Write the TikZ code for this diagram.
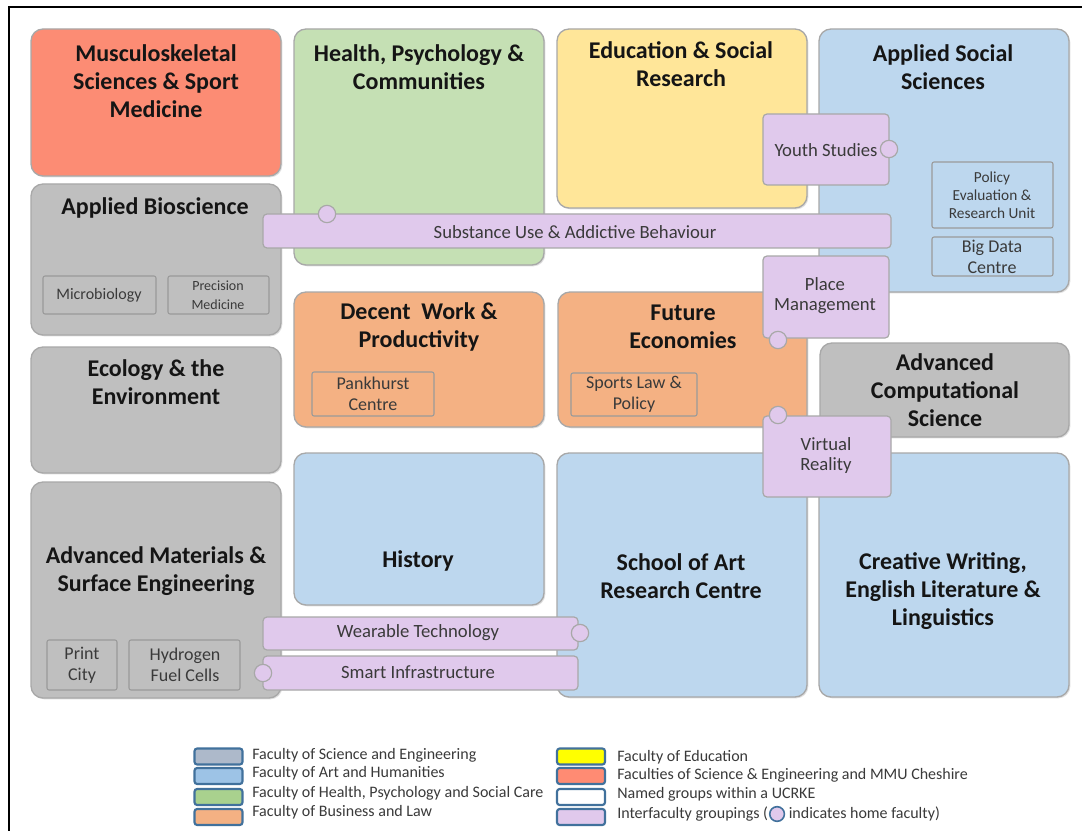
\documentclass[tikz,border=0pt]{standalone}
\usepackage{fontspec}
\setmainfont{Carlito}
\usetikzlibrary{fit,shadows}
\definecolor{bgrey}{HTML}{A8A8A8}
\definecolor{sgrey}{HTML}{9A9A9A}
\definecolor{salmon}{HTML}{FC8C74}
\definecolor{green}{HTML}{C5E0B4}
\definecolor{yell}{HTML}{FFE699}
\definecolor{blu}{HTML}{BDD7EE}
\definecolor{gry}{HTML}{BFBFBF}
\definecolor{orng}{HTML}{F4B183}
\definecolor{purp}{HTML}{E0C9EC}
\definecolor{titlecol}{HTML}{151515}
\definecolor{labcol}{HTML}{3A3A3A}
\definecolor{legblue}{HTML}{41719C}
\definecolor{lsci}{HTML}{ADB9CA}
\definecolor{lart}{HTML}{9DC3E6}
\definecolor{lhea}{HTML}{A9D18E}
\definecolor{lbus}{HTML}{F4B183}
\definecolor{ledu}{HTML}{FFFF00}
\definecolor{lmmu}{HTML}{FF8B73}
\tikzset{
  big/.style={draw=bgrey, line width=1pt, rounded corners=9pt, inner sep=0pt,
    drop shadow={shadow xshift=1pt, shadow yshift=-1pt, opacity=0.25}},
  subbox/.style={draw=sgrey, line width=0.8pt, rounded corners=1.5pt, inner sep=0pt},
  inter/.style={draw=bgrey, line width=0.9pt, fill=purp, rounded corners=3pt, inner sep=0pt},
  homedot/.style={circle, draw=bgrey, line width=0.9pt, fill=purp, minimum size=13pt, inner sep=0pt},
  title/.style={font=\bfseries\fontsize{18}{21}\selectfont, align=center, text=titlecol},
  lab/.style={font=\fontsize{14}{15}\selectfont, align=center, text=labcol},
  sublab/.style={font=\fontsize{13.5}{15.5}\selectfont, align=center, text=labcol},
  legbox/.style={draw=legblue, line width=1.6pt, rounded corners=2pt, minimum width=36pt, minimum height=12pt, inner sep=0pt},
  legtxt/.style={font=\fontsize{12}{13}\selectfont, text=labcol, anchor=west, inner sep=0pt},
  legdot/.style={circle, draw=legblue, line width=1.2pt, fill=purp, minimum size=11pt, inner sep=0pt},
}
\begin{document}
\begin{tikzpicture}[x=0.75pt,y=-0.75pt]
\useasboundingbox (0,0) rectangle (1082,831);
\fill[white] (0,0) rectangle (1082,831);
\draw[line width=1.5pt] (9,831) -- (9,7) -- (1082,7);

% main boxes
\node[big, fill=salmon, fit={(31,29) (281,176)}] (mss) {};
\node[big, fill=green, fit={(294,29) (544,265)}] (hpc) {};
\node[big, fill=yell, fit={(557,29) (807,208)}] (esr) {};
\node[big, fill=blu, fit={(819,29) (1069,292)}] (ass) {};
\node[big, fill=gry, fit={(31,184) (281,335)}] (abs) {};
\node[big, fill=gry, fit={(31,347) (281,473)}] (eco) {};
\node[big, fill=gry, fit={(31,482) (281,698)}] (ams) {};
\node[big, fill=orng, fit={(294,292) (544,427)}] (dwp) {};
\node[big, fill=orng, fit={(558,292) (807,427)}] (fe) {};
\node[big, fill=gry, fit={(820,343) (1069,437)}] (acs) {};
\node[big, fill=blu, fit={(294,453) (544,605)}] (his) {};
\node[big, fill=blu, fit={(557,453) (807,697)}] (sar) {};
\node[big, fill=blu, fit={(819,453) (1069,697)}] (cw) {};

% titles
\node[title] (tmss) at (156,81) {Musculoskeletal\\Sciences \& Sport\\Medicine};
\node[title] (thpc) at (419,67) {Health, Psychology \&\\Communities};
\node[title] (tesr) at (681,64) {Education \& Social\\Research};
\node[title] (tass) at (943,67) {Applied Social\\Sciences};
\node[title] (tabs) at (155,208) {Applied Bioscience};
\node[title] (teco) at (156,382) {Ecology \& the\\Environment};
\node[title] (tams) at (156,571) {Advanced Materials \&\\Surface Engineering};
\node[title] (tdwp) at (419,327) {Decent~~Work \&\\Productivity};
\node[title] (tfe) at (683,327) {Future\\Economies};
\node[title] (tacs) at (945,390) {Advanced\\Computational\\Science};
\node[title] (this) at (418,561) {History};
\node[title] (tsar) at (681,576) {School of Art\\Research Centre};
\node[title] (tcw) at (943,591) {Creative Writing,\\English Literature \&\\Linguistics};

% named groups
\node[subbox, fit={(43,276) (156,314)}] (micro) {};
\node[sublab, font=\fontsize{12}{14}\selectfont] (tmicro) at (99,295) {Microbiology};
\node[subbox, fit={(168,276) (269,314)}] (prec) {};
\node[sublab, font=\fontsize{10.5}{14}\selectfont] (tprec) at (218,295) {Precision\\Medicine};
\node[subbox, fit={(312,372) (434,416)}] (pank) {};
\node[sublab] (tpank) at (373,394) {Pankhurst\\Centre};
\node[subbox, fit={(571,373) (697,416)}] (sports) {};
\node[sublab] (tsports) at (634,394) {Sports Law \&\\Policy};
\node[subbox, fit={(932,162) (1053,228)}] (per) {};
\node[sublab, font=\fontsize{11.5}{13.5}\selectfont] (tper) at (992,195) {Policy\\Evaluation \&\\Research Unit};
\node[subbox, fit={(932,237) (1053,276)}] (bdc) {};
\node[sublab] (tbdc) at (992,257) {Big Data\\Centre};
\node[subbox, fit={(47,640) (117,690)}] (print) {};
\node[sublab] (tprint) at (82,665) {Print\\City};
\node[subbox, fit={(129,640) (240,690)}] (hyd) {};
\node[sublab] (thyd) at (185,665) {Hydrogen\\Fuel Cells};

% interfaculty groupings
\node[inter, fit={(763,114) (889,185)}] (youth) {};
\node[lab] (tyouth) at (826,150) {Youth Studies};
\node[homedot] (dyouth) at (889,149) {};
\node[inter, fit={(263,214) (891,248)}] (subst) {};
\node[lab] (tsubst) at (575,232) {Substance Use \& Addictive Behaviour};
\node[homedot] (dsubst) at (327,214) {};
\node[inter, fit={(763,256) (889,338)}] (place) {};
\node[lab] (tplace) at (825,296) {Place\\Management};
\node[homedot] (dplace) at (778,340) {};
\node[inter, fit={(763,416) (891,497)}] (vr) {};
\node[lab] (tvr) at (826,456) {Virtual\\Reality};
\node[homedot] (dvr) at (778,415) {};
\node[inter, fit={(263,617) (578,650)}] (wear) {};
\node[lab] (twear) at (418,633) {Wearable Technology};
\node[homedot] (dwear) at (580,633) {};
\node[inter, fit={(263,656) (578,690)}] (smart) {};
\node[lab] (tsmart) at (418,672) {Smart Infrastructure};
\node[homedot] (dsmart) at (263,673) {};

% legend
\node[legbox, fill=lsci] (k1) at (218.5,756.5) {};
\node[legbox, fill=lart] (k2) at (218.5,776) {};
\node[legbox, fill=lhea] (k3) at (218.5,797) {};
\node[legbox, fill=lbus] (k4) at (218.5,817) {};
\node[legtxt] (t1) at (252,755) {Faculty of Science and Engineering};
\node[legtxt] (t2) at (252,773) {Faculty of Art and Humanities};
\node[legtxt] (t3) at (252,793) {Faculty of Health, Psychology and Social Care};
\node[legtxt] (t4) at (252,812) {Faculty of Business and Law};
\node[legbox, fill=ledu] (k5) at (581,756.5) {};
\node[legbox, fill=lmmu] (k6) at (581,776) {};
\node[legbox, fill=white] (k7) at (581,797) {};
\node[legbox, fill=purp] (k8) at (581,817) {};
\node[legtxt] (t5) at (617,757) {Faculty of Education};
\node[legtxt] (t6) at (617,775) {Faculties of Science \& Engineering and MMU Cheshire};
\node[legtxt] (t7) at (617,794) {Named groups within a UCRKE};
\node[legtxt] (t8a) at (617,814) {Interfaculty groupings (};
\node[legdot, anchor=west] (t8c) at ([xshift=0.5pt]t8a.east) {};
\node[legtxt] (t8b) at ([xshift=2.5pt]t8c.east) {indicates home faculty)};
\end{tikzpicture}
\end{document}
